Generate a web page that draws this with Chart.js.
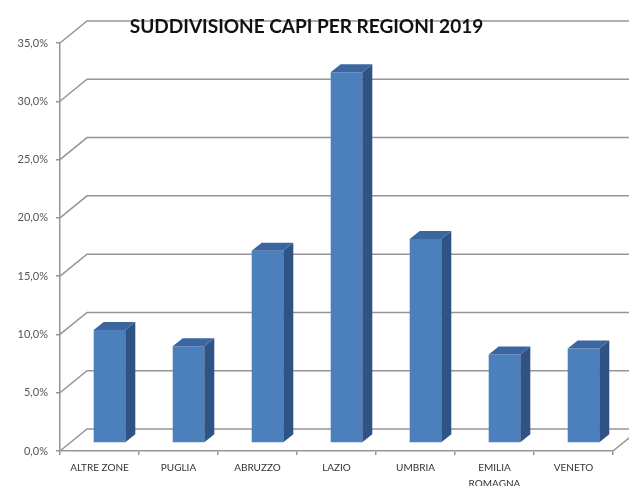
<!DOCTYPE html>
<html>
<head>
<meta charset="utf-8">
<script src="https://cdn.jsdelivr.net/npm/chart.js@4/dist/chart.umd.min.js"></script>
<style>
  html, body { margin: 0; padding: 0; background: #ffffff; }
  #wrap { width: 629px; height: 486px; }
</style>
</head>
<body>
<div id="wrap"><canvas id="c" width="629" height="486"></canvas></div>
<script>
const titleText = 'SUDDIVISIONE CAPI PER REGIONI 2019';
const categories = ['ALTRE ZONE', 'PUGLIA', 'ABRUZZO', 'LAZIO', 'UMBRIA', ['EMILIA', 'ROMAGNA'], 'VENETO'];
const values = [9.7, 8.3, 16.5, 31.8, 17.5, 7.6, 8.1];
const yMin = 0;
const yMax = 35;
const yStep = 5;

const WALL = { dx: 27, dy: -22 };
const BAR_SHIFT = { dx: 10, dy: -8 };
const BAR_DEPTH = { dx: 10, dy: -8 };
const GRID_COLOR = '#959595';
const FRONT = '#4c80bd';
const SIDE = '#2f5384';
const TOP = '#3c66a0';

const fmt = v => v.toFixed(1).replace('.', ',') + '%';

const threeD = {
  id: 'threeD',
  beforeDraw(chart) {
    const ctx = chart.ctx;
    const { left, right, bottom } = chart.chartArea;
    const ys = chart.scales.y;
    ctx.save();
    ctx.fillStyle = '#ffffff';
    ctx.fillRect(0, 0, chart.width, chart.height);
    ctx.strokeStyle = GRID_COLOR;
    ctx.lineWidth = 1.5;
    ys.ticks.forEach(t => {
      const py = ys.getPixelForValue(t.value);
      ctx.beginPath();
      ctx.moveTo(left, py);
      ctx.lineTo(left + WALL.dx, py + WALL.dy);
      ctx.lineTo(chart.width + 5, py + WALL.dy);
      ctx.stroke();
    });
    ctx.beginPath();
    ctx.moveTo(right, bottom);
    ctx.lineTo(right + WALL.dx, bottom + WALL.dy);
    ctx.stroke();
    ctx.restore();
  },
  beforeDatasetsDraw(chart) {
    chart.ctx.save();
    chart.ctx.translate(BAR_SHIFT.dx, BAR_SHIFT.dy);
  },
  afterDatasetsDraw(chart) {
    const ctx = chart.ctx;
    chart.getDatasetMeta(0).data.forEach(el => {
      const p = el.getProps(['x', 'y', 'base', 'width'], true);
      const l = p.x - p.width / 2, r = p.x + p.width / 2;
      ctx.fillStyle = SIDE;
      ctx.beginPath();
      ctx.moveTo(r, p.y);
      ctx.lineTo(r + BAR_DEPTH.dx, p.y + BAR_DEPTH.dy);
      ctx.lineTo(r + BAR_DEPTH.dx, p.base + BAR_DEPTH.dy);
      ctx.lineTo(r, p.base);
      ctx.closePath();
      ctx.fill();
      ctx.fillStyle = TOP;
      ctx.beginPath();
      ctx.moveTo(l, p.y);
      ctx.lineTo(l + BAR_DEPTH.dx, p.y + BAR_DEPTH.dy);
      ctx.lineTo(r + BAR_DEPTH.dx, p.y + BAR_DEPTH.dy);
      ctx.lineTo(r, p.y);
      ctx.closePath();
      ctx.fill();
    });
    ctx.restore();
  }
};

new Chart(document.getElementById('c'), {
  type: 'bar',
  data: {
    labels: categories,
    datasets: [{
      data: values,
      backgroundColor: FRONT,
      borderWidth: 0,
      categoryPercentage: 1,
      barPercentage: 0.4
    }]
  },
  options: {
    responsive: false,
    animation: false,
    devicePixelRatio: 1,
    layout: { padding: { left: 0, right: 16, top: 0, bottom: 0 } },
    plugins: {
      legend: { display: false },
      tooltip: { enabled: false },
      title: {
        display: true,
        text: titleText,
        color: '#111111',
        font: { family: 'Lato', size: 19, weight: 'bold', lineHeight: 1.2 },
        padding: { top: 15, bottom: 5.2 }
      }
    },
    scales: {
      y: {
        min: yMin,
        max: yMax,
        afterFit: s => { s.width = 60; },
        ticks: {
          stepSize: yStep,
          callback: v => fmt(v),
          color: '#555555',
          padding: 8,
          font: { family: 'Lato', size: 11 }
        },
        grid: { drawOnChartArea: false, tickLength: 4, color: GRID_COLOR, lineWidth: 1.5 },
        border: { display: true, color: GRID_COLOR, width: 1.5 }
      },
      x: {
        afterFit: s => { s.height = 35; },
        ticks: {
          color: '#333333',
          padding: 5,
          maxRotation: 0,
          autoSkip: false,
          font: { family: 'Lato', size: 10, lineHeight: 1.6 }
        },
        grid: { drawOnChartArea: false, tickLength: 4, color: GRID_COLOR, lineWidth: 1.5, offset: true },
        border: { display: true, color: GRID_COLOR, width: 1.5 }
      }
    }
  },
  plugins: [threeD]
});
</script>
</body>
</html>
